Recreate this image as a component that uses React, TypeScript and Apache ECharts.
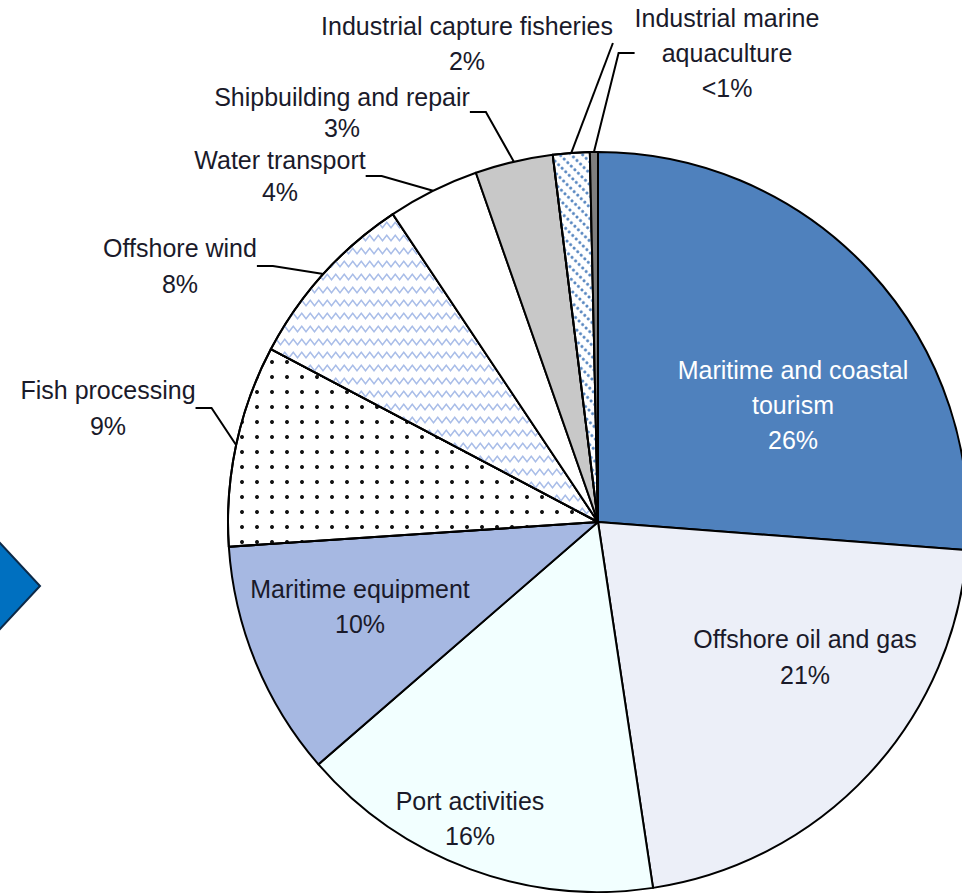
import React, { useEffect, useRef } from "react";
import * as echarts from "echarts";

// ---- data ----
const categories = [
  "Maritime and coastal tourism",
  "Offshore oil and gas",
  "Port activities",
  "Maritime equipment",
  "Fish processing",
  "Offshore wind",
  "Water transport",
  "Shipbuilding and repair",
  "Industrial capture fisheries",
  "Industrial marine aquaculture",
];
const labelTexts = [
  "Maritime and coastal\ntourism",
  "Offshore oil and gas",
  "Port activities",
  "Maritime equipment",
  "Fish processing",
  "Offshore wind",
  "Water transport",
  "Shipbuilding and repair",
  "Industrial capture fisheries",
  "Industrial marine\naquaculture",
];
const shareValues = [26.2, 21.4, 16.0, 10.3, 8.8, 7.9, 4.0, 3.4, 1.6, 0.35];
const shareLabels = ["26%", "21%", "16%", "10%", "9%", "8%", "4%", "3%", "2%", "<1%"];

// ---- layout / style ----
const labelPos: number[][] = [
  [793, 405], [805, 657], [470, 818], [360, 606], [108, 408],
  [180, 266], [280, 176], [342, 112], [467, 43], [727, 53],
];
const labelLineHeights = [35, 36, 35, 35, 36, 36, 32, 31, 35, 35];
const insideCount = 4;
const FONT = "'Liberation Sans', Arial, sans-serif";

const dotDecal = {
  symbol: "circle",
  symbolSize: 1,
  dashArrayX: [4, 11],
  dashArrayY: [4, 11],
  color: "#111",
  rotation: 0,
};
const waveDecal = {
  symbol: "path://M0,5 L4.25,0 L8.5,5 L12.75,0 L17,5 L17,7.2 L12.75,2.2 L8.5,7.2 L4.25,2.2 L0,7.2 Z",
  symbolSize: 1,
  symbolKeepAspect: false,
  dashArrayX: [17, 0],
  dashArrayY: [7.2, 4.5],
  color: "#a9bde8",
  rotation: 0,
};
const hatchDecal = {
  symbol: "circle",
  symbolSize: 1,
  dashArrayX: [2.6, 1.6],
  dashArrayY: [2.6, 4.5],
  color: "#4f81bd",
  rotation: Math.PI / 4,
};

const sliceColors = [
  "#4f81bd", "#eceff8", "#f2ffff", "#a6b8e2", "#ffffff",
  "#ffffff", "#ffffff", "#c8c8c8", "#ffffff", "#7f7f7f",
];
const sliceDecals: any[] = [null, null, null, null, dotDecal, waveDecal, null, null, hatchDecal, null];

export default function App() {
  const ref = useRef<HTMLDivElement>(null);
  useEffect(() => {
    if (!ref.current) return;
    const chart = echarts.init(ref.current, null, { renderer: "svg" });
    const data = categories.map((name, i) => {
      const inside = i < insideCount;
      const item: any = {
        name,
        value: shareValues[i],
        itemStyle: { color: sliceColors[i] },
        label: {
          position: inside ? "inside" : "outside",
          color: i === 0 ? "#ffffff" : "#1a1a2a",
          lineHeight: labelLineHeights[i],
        },
        labelLine: inside
          ? { show: false }
          : { show: true, length: 10, length2: i === 8 ? 0 : 16 },
      };
      if (sliceDecals[i]) item.itemStyle.decal = sliceDecals[i];
      return item;
    });
    chart.setOption({
      animation: false,
      backgroundColor: "#ffffff",
      graphic: [
        {
          type: "polygon",
          shape: { points: [[-12, 530], [40, 586], [-12, 642]] },
          style: { fill: "#0070c0", stroke: "#0d2a48", lineWidth: 2 },
        },
      ],
      series: [
        {
          type: "pie",
          center: [598, 522],
          radius: 370,
          startAngle: 90,
          clockwise: true,
          avoidLabelOverlap: false,
          data,
          itemStyle: { borderColor: "#000", borderWidth: 2 },
          emphasis: { disabled: true },
          label: {
            show: true,
            fontFamily: FONT,
            fontSize: 25,
            align: "center",
            formatter: (p: any) => `${labelTexts[p.dataIndex]}\n${shareLabels[p.dataIndex]}`,
          },
          labelLine: {
            show: true,
            lineStyle: { color: "#000", width: 2 },
            minTurnAngle: 0,
          },
          labelLayout: (p: any) => {
            const pos = labelPos[p.dataIndex];
            return { x: pos[0], y: pos[1], align: "center", verticalAlign: "middle" };
          },
        },
      ],
    });
    return () => chart.dispose();
  }, []);
  return (
    <div
      ref={ref}
      style={{ position: "absolute", left: 0, top: 0, width: 962, height: 893 }}
    />
  );
}
